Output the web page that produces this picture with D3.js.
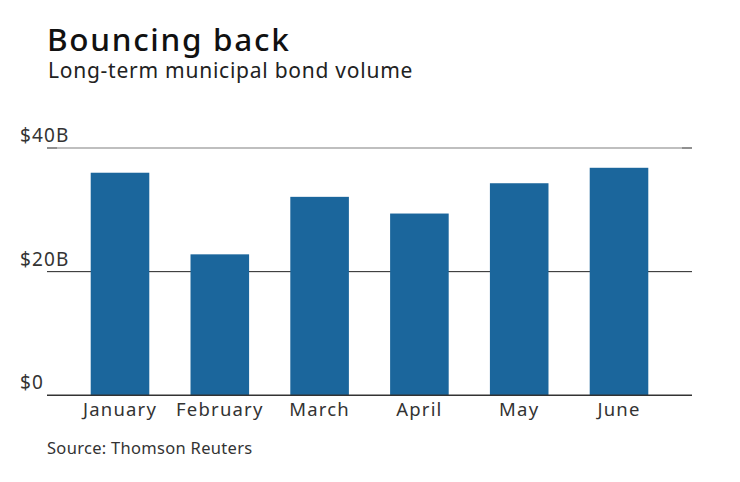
<!DOCTYPE html>
<html lang="en">
<head>
  <meta charset="UTF-8">
  <title>Bouncing back</title>
  <style>
    body { margin: 0; background: #fff; }
    svg text { font-family: "Noto Sans", sans-serif; }
  </style>
  <script src="https://d3js.org/d3.v7.min.js"></script>
</head>
<body>
  <div id="chart"></div>
  <script>
    const months = ["January", "February", "March", "April", "May", "June"];
    const volume = [36.0, 22.8, 32.1, 29.4, 34.3, 36.8];
    const yTicks = [0, 20, 40];
    const yTickLabels = ["$0", "$20B", "$40B"];

    const width = 740, height = 482;

    const svg = d3.select("#chart")
      .append("svg")
      .attr("width", width)
      .attr("height", height);

    const x = d3.scaleBand()
      .domain(months)
      .range([47, 692])
      .paddingInner(0.413)
      .paddingOuter(0.438);

    const y = d3.scaleLinear()
      .domain([0, 40])
      .range([395.3, 148]);

    // title block
    svg.append("text")
      .attr("x", 47)
      .attr("y", 51)
      .style("font-size", "31.5px")
      .style("font-weight", "500")
      .style("letter-spacing", "1.7px")
      .attr("fill", "#111")
      .text("Bouncing back");

    svg.append("text")
      .attr("x", 48)
      .attr("y", 78)
      .style("font-size", "21px")
      .style("letter-spacing", "0.75px")
      .attr("fill", "#222")
      .text("Long-term municipal bond volume");

    // gridlines
    svg.selectAll(".grid")
      .data(yTicks.filter(d => d > 0))
      .enter()
      .append("line")
      .attr("class", "grid")
      .attr("x1", 47)
      .attr("x2", 692)
      .attr("y1", d => y(d))
      .attr("y2", d => y(d))
      .attr("stroke", d => d === 40 ? "#aaa" : "#222")
      .attr("stroke-width", d => d === 40 ? 1.3 : 1);

    // darker end ticks on the top line
    [[47, 57], [682, 692]].forEach(function(seg) {
      svg.append("line")
        .attr("x1", seg[0])
        .attr("x2", seg[1])
        .attr("y1", y(40))
        .attr("y2", y(40))
        .attr("stroke", "#777")
        .attr("stroke-width", 1.3);
    });

    // bars
    svg.selectAll(".bar")
      .data(months)
      .enter()
      .append("rect")
      .attr("class", "bar")
      .attr("x", d => x(d))
      .attr("width", x.bandwidth())
      .attr("y", (d, i) => y(volume[i]))
      .attr("height", (d, i) => y(0) - y(volume[i]))
      .attr("fill", "#1b669c");

    // baseline
    svg.append("line")
      .attr("x1", 47)
      .attr("x2", 692)
      .attr("y1", y(0))
      .attr("y2", y(0))
      .attr("stroke", "#333")
      .attr("stroke-width", 1.5);

    // y tick labels
    svg.selectAll(".ylabel")
      .data(yTicks)
      .enter()
      .append("text")
      .attr("class", "ylabel")
      .attr("x", 20)
      .attr("y", d => y(d) - 6)
      .style("font-size", "19px")
      .style("letter-spacing", "1.1px")
      .attr("fill", "#333")
      .text((d, i) => yTickLabels[i]);

    // x axis labels
    const xAxis = d3.axisBottom(x).tickSize(0).tickPadding(0);
    const gx = svg.append("g")
      .attr("transform", `translate(0, ${y(0)})`)
      .call(xAxis);
    gx.select(".domain").remove();
    gx.selectAll("text")
      .attr("dy", null)
      .attr("y", 21)
      .style("font-size", "18.5px")
      .style("letter-spacing", "1.2px")
      .style("font-family", "'Noto Sans', sans-serif")
      .attr("fill", "#333");

    // source
    svg.append("text")
      .attr("x", 47)
      .attr("y", 454)
      .style("font-size", "16.5px")
      .style("letter-spacing", "0.3px")
      .attr("fill", "#333")
      .text("Source: Thomson Reuters");
  </script>
</body>
</html>
